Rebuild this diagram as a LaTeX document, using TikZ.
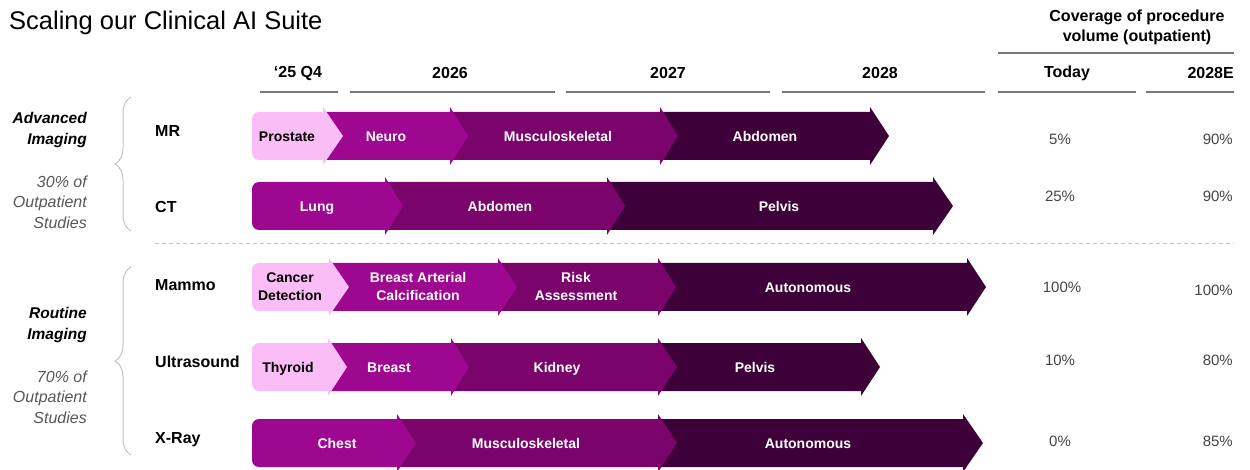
\documentclass[tikz,border=0pt]{standalone}
\usepackage{fontspec}
\setmainfont{Liberation Sans}
\usetikzlibrary{decorations.pathreplacing}

\definecolor{segpink}{HTML}{FBBDF5}
\definecolor{segmag}{HTML}{9E0790}
\definecolor{segplum}{HTML}{7A046B}
\definecolor{segdark}{HTML}{3E0038}
\definecolor{rulegray}{HTML}{777777}
\definecolor{bracegray}{HTML}{C4C4C4}
\definecolor{numgray}{HTML}{444444}

\tikzset{
  light/.style={fill=segpink}, light txt/.style={text=black},
  mid/.style={fill=segmag},    mid txt/.style={text=white},
  deep/.style={fill=segplum},  deep txt/.style={text=white},
  dark/.style={fill=segdark},  dark txt/.style={text=white},
  seglabel/.style={font=\fontsize{14}{18}\selectfont\bfseries, align=center, inner sep=0pt,
    execute at begin node=\strut, execute at end node=\strut},
  head/.style={font=\fontsize{16}{20}\selectfont\bfseries, inner sep=0pt},
  modality/.style={font=\fontsize{16}{20}\selectfont\bfseries, anchor=west, inner sep=0pt},
  group/.style={font=\fontsize{15.5}{21}\selectfont\bfseries\itshape, align=right, anchor=east, inner sep=0pt},
  share/.style={font=\fontsize{16}{20.5}\selectfont\itshape, text=numgray!90, align=right, anchor=east, inner sep=0pt},
  pct/.style={font=\fontsize{15}{18}\selectfont, text=numgray, inner sep=0pt},
  hrule/.style={draw=rulegray, line width=1.3pt},
  groupbrace/.style={draw=bracegray, line width=1pt, decorate, decoration={brace, amplitude=16pt}},
}

% #1 corners, #2 start, #3 body end, #4 tip, #5 centre, #6 style, #7 label x, #8 text, #9 name
\newcommand{\chevron}[9][sharp corners]{%
  \fill[#6] (#3,#5-24) [#1] -- (#2,#5-24) -- (#2,#5+24) [sharp corners] -- (#3,#5+24)
    -- (#3,#5+29) -- (#4,#5) -- (#3,#5-29) -- cycle;
  \node[seglabel, #6 txt] (#9) at (#7,#5+2) {#8};}

\begin{document}
\begin{tikzpicture}[x=1pt, y=-1pt]
    \useasboundingbox (0,0) rectangle (1250,470);

    % Title
    \node[anchor=west, inner sep=0pt, font=\fontsize{25.5}{30}\selectfont] (title) at (9,23) {Scaling our Clinical AI Suite};

    % Column heads
    \node[head] (q4)   at (298,73) {‘25 Q4};
    \node[head] (y26)  at (450,73) {2026};
    \node[head] (y27)  at (668,73) {2027};
    \node[head] (y28)  at (880,73) {2028};
    \node[head, align=center, font=\fontsize{16}{20}\selectfont\bfseries] (cov) at (1137,27) {Coverage of procedure\\volume (outpatient)};
    \node[head] (today) at (1067,73) {Today};
    \node[head, anchor=east] (y28e) at (1234,73) {2028E};

    \draw[hrule] (998,53) -- (1234,53);
    \draw[hrule] (260,92) -- (338,92);
    \draw[hrule] (350,92) -- (555,92);
    \draw[hrule] (566,92) -- (770,92);
    \draw[hrule] (782,92) -- (985,92);
    \draw[hrule] (998,92) -- (1136,92);
    \draw[hrule] (1146,92) -- (1234,92);

    % Groups
    \node[group] (adv) at (87,130) {Advanced\\Imaging};
    \node[share] (advshare) at (87,202) {30\% of\\Outpatient\\Studies};
    \node[group] (rout) at (87,325) {Routine\\Imaging};
    \node[share] (routshare) at (87,397) {70\% of\\Outpatient\\Studies};
    \draw[groupbrace] (131,231) -- (131,97);
    \draw[groupbrace] (131,455) -- (131,267);

    \node[modality] (mr)    at (155,131) {MR};
    \node[modality] (ct)    at (155,207) {CT};
    \node[modality] (mammo) at (155,285) {Mammo};
    \node[modality] (us)    at (155,362) {Ultrasound};
    \node[modality] (xray)  at (155,440) {X-Ray};

    \draw[draw=bracegray, dash pattern=on 4pt off 3pt, line width=0.8pt] (155,243) -- (1234,243);

    % MR
    \chevron{660}{870}{889}{136}{dark}{765}{Abdomen}{mrAbd}
    \chevron{450}{660}{678}{136}{deep}{558}{Musculoskeletal}{mrMsk}
    \chevron{323}{450}{468}{136}{mid}{386}{Neuro}{mrNeuro}
    \chevron[rounded corners=7pt]{252}{323}{343}{136}{light}{287}{Prostate}{mrPro}

    % CT
    \chevron{607}{933}{953}{206}{dark}{779}{Pelvis}{ctPel}
    \chevron{385}{607}{625}{206}{deep}{500}{Abdomen}{ctAbd}
    \chevron[rounded corners=7pt]{252}{385}{403}{206}{mid}{317}{Lung}{ctLung}

    % Mammo
    \chevron{658}{967}{986}{287}{dark}{808}{Autonomous}{mmAuto}
    \chevron{498}{658}{676}{287}{deep}{576}{Risk\\Assessment}{mmRisk}
    \chevron{329}{498}{517}{287}{mid}{418}{Breast Arterial\\Calcification}{mmBac}
    \chevron[rounded corners=7pt]{252}{329}{349}{287}{light}{290}{Cancer\\Detection}{mmCad}

    % Ultrasound
    \chevron{658}{861}{880}{367}{dark}{755}{Pelvis}{usPel}
    \chevron{451}{658}{677}{367}{deep}{557}{Kidney}{usKid}
    \chevron{328}{451}{469}{367}{mid}{389}{Breast}{usBreast}
    \chevron[rounded corners=7pt]{252}{328}{347}{367}{light}{288}{Thyroid}{usThy}

    % X-Ray
    \chevron{658}{963}{983}{443}{dark}{808}{Autonomous}{xrAuto}
    \chevron{397}{658}{677}{443}{deep}{526}{Musculoskeletal}{xrMsk}
    \chevron[rounded corners=7pt]{252}{397}{416}{443}{mid}{337}{Chest}{xrChest}

    % Coverage
    \node[pct] (mrNow)    at (1060,139) {5\%};
    \node[pct] (ctNow)    at (1060,196) {25\%};
    \node[pct] (mmNow)    at (1062,287) {100\%};
    \node[pct] (usNow)    at (1060,360) {10\%};
    \node[pct] (xrNow)    at (1060,441) {0\%};
    \node[pct, anchor=east] (mrLater) at (1233,139) {90\%};
    \node[pct, anchor=east] (ctLater) at (1233,196) {90\%};
    \node[pct, anchor=east] (mmLater) at (1233,290) {100\%};
    \node[pct, anchor=east] (usLater) at (1233,360) {80\%};
    \node[pct, anchor=east] (xrLater) at (1233,441) {85\%};
\end{tikzpicture}
\end{document}
